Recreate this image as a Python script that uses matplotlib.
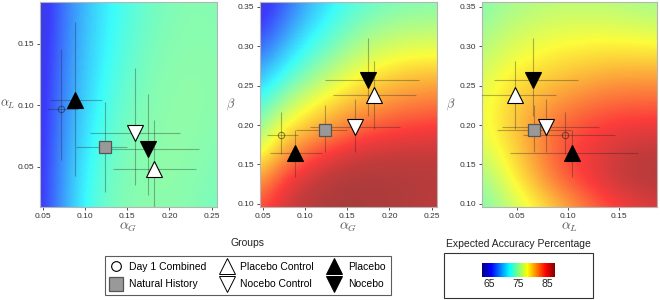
import numpy as np
import matplotlib
matplotlib.use("Agg")
import matplotlib.pyplot as plt
from matplotlib.colors import LinearSegmentedColormap, Normalize
from matplotlib.lines import Line2D
from matplotlib.patches import Rectangle
import matplotlib.cm as cm

plt.rcParams['font.family'] = ['Liberation Sans', 'DejaVu Sans']
plt.rcParams['mathtext.fontset'] = 'cm'

# ---------------- data ----------------
groups = ["Day 1 Combined", "Natural History", "Placebo Control",
          "Nocebo Control", "Placebo", "Nocebo"]
aG     = [0.072, 0.124, 0.182, 0.159, 0.088, 0.175]
aG_lo  = [0.055, 0.089, 0.133, 0.106, 0.059, 0.124]
aG_hi  = [0.092, 0.150, 0.232, 0.212, 0.120, 0.235]
aL     = [0.097, 0.066, 0.048, 0.078, 0.104, 0.065]
aL_lo  = [0.056, 0.030, 0.013, 0.035, 0.043, 0.027]
aL_hi  = [0.146, 0.103, 0.088, 0.130, 0.168, 0.109]
beta   = [0.187, 0.194, 0.238, 0.198, 0.164, 0.257]
beta_lo = [0.163, 0.166, 0.195, 0.166, 0.134, 0.212]
beta_hi = [0.216, 0.226, 0.281, 0.233, 0.194, 0.310]

# axis ranges
aG_range = (0.0468, 0.2563)
aL_range1 = (0.0175, 0.184)
beta_range = (0.096, 0.356)
aL_range3 = (0.015, 0.187)

# expected accuracy (%) read at evenly spaced nodes spanning each panel (rows: bottom -> top)
acc_G_L = [
    [65.0, 68.8, 72.0, 73.7, 74.3, 74.5, 74.5, 74.2, 73.8],
    [64.8, 68.5, 71.3, 73.3, 74.2, 74.5, 74.6, 74.5, 74.2],
    [64.6, 68.0, 70.5, 72.5, 73.7, 74.3, 74.6, 74.6, 74.5],
    [64.4, 67.6, 70.0, 71.8, 73.1, 74.0, 74.4, 74.5, 74.4],
    [64.2, 67.3, 69.7, 71.5, 72.6, 73.6, 74.1, 74.3, 74.2],
]
acc_G_B = [
    [83.8, 85.5, 86.5, 86.9, 87.0, 86.9, 86.8, 86.6, 86.3],
    [81.2, 84.3, 85.9, 86.6, 86.9, 86.9, 86.8, 86.7, 86.6],
    [78.0, 81.0, 83.2, 84.8, 85.7, 86.1, 86.2, 86.2, 86.2],
    [75.0, 78.5, 80.0, 81.3, 82.6, 83.6, 84.2, 84.5, 84.7],
    [72.5, 75.5, 77.5, 79.0, 80.2, 81.0, 81.8, 82.2, 82.5],
    [70.0, 72.5, 74.5, 76.3, 77.8, 79.0, 79.8, 80.3, 80.5],
    [67.5, 70.0, 72.3, 74.0, 75.5, 76.7, 77.4, 77.8, 77.8],
    [65.5, 68.0, 70.5, 72.3, 73.8, 74.9, 75.5, 75.8, 75.9],
    [64.5, 66.5, 69.0, 71.0, 72.4, 73.3, 73.9, 74.2, 74.3],
]
acc_L_B = [
    [74.0, 76.0, 78.0, 80.0, 82.0, 83.7, 84.8, 85.4],
    [75.0, 77.5, 80.0, 82.5, 84.2, 85.6, 86.4, 86.6],
    [76.5, 78.5, 81.0, 83.3, 84.7, 85.6, 86.3, 86.5],
    [77.5, 79.3, 81.2, 83.0, 84.0, 84.7, 85.1, 85.2],
    [77.5, 79.2, 80.5, 81.6, 82.4, 83.0, 83.2, 83.2],
    [77.0, 78.5, 79.3, 80.0, 80.5, 81.0, 81.2, 81.2],
    [76.0, 77.3, 78.0, 78.5, 78.8, 79.0, 79.0, 78.9],
    [75.0, 76.2, 76.8, 77.2, 77.3, 77.3, 77.1, 76.8],
    [74.3, 75.2, 75.7, 76.0, 76.0, 75.9, 75.6, 75.3],
]

cb_ticks = [65, 75, 85]
cb_range = (62.5, 87.5)

# ---------------- styles ----------------
cmap = LinearSegmentedColormap.from_list(
    "jetlike", ["#00007F", "#0000FF", "#007FFF", "#00FFFF", "#7FFF7F",
                "#FFFF00", "#FF7F00", "#FF0000", "#7F0000"])
norm = Normalize(*cb_range)

mstyle = {
    "Day 1 Combined": dict(marker='o', ms=4.6, mfc='none', mec=(0.1, 0.1, 0.1, 0.5), mew=0.8),
    "Natural History": dict(marker='s', ms=8.5, mfc='#999999', mec='#555555', mew=0.9),
    "Placebo Control": dict(marker='^', ms=11.5, mfc='white', mec='black', mew=0.8),
    "Nocebo Control": dict(marker='v', ms=11.5, mfc='white', mec='black', mew=0.8),
    "Placebo": dict(marker='^', ms=11.5, mfc='black', mec='black', mew=0.8),
    "Nocebo": dict(marker='v', ms=11.5, mfc='black', mec='black', mew=0.8),
}
leg_style = {
    "Day 1 Combined": dict(marker='o', ms=7, mfc='white', mec='black', mew=0.8),
    "Natural History": dict(marker='s', ms=9.5, mfc='#999999', mec='#555555', mew=0.9),
    "Placebo Control": dict(marker='^', ms=12, mfc='white', mec='black', mew=0.7),
    "Nocebo Control": dict(marker='v', ms=12, mfc='white', mec='black', mew=0.7),
    "Placebo": dict(marker='^', ms=12, mfc='black', mec='black', mew=0.7),
    "Nocebo": dict(marker='v', ms=12, mfc='black', mec='black', mew=0.7),
}

fig = plt.figure(figsize=(6.6, 3.0), dpi=100)

W, H = 660.0, 300.0
def axpos(l, r, t, b):
    return [l / W, 1 - b / H, (r - l) / W, (b - t) / H]

panels = [
    dict(pos=axpos(40, 217, 2, 207), grid=acc_G_L, xr=aG_range, yr=aL_range1,
         x=aG, xlo=aG_lo, xhi=aG_hi, y=aL, ylo=aL_lo, yhi=aL_hi,
         xl=r'$\alpha_G$', yl=r'$\alpha_L$', ylx=-0.18,
         xt=[0.05, 0.10, 0.15, 0.20, 0.25], yt=[0.05, 0.10, 0.15]),
    dict(pos=axpos(260, 437, 2, 207), grid=acc_G_B, xr=aG_range, yr=beta_range,
         x=aG, xlo=aG_lo, xhi=aG_hi, y=beta, ylo=beta_lo, yhi=beta_hi,
         xl=r'$\alpha_G$', yl=r'$\beta$', ylx=-0.165,
         xt=[0.05, 0.10, 0.15, 0.20, 0.25], yt=[0.10, 0.15, 0.20, 0.25, 0.30, 0.35]),
    dict(pos=axpos(481.7, 657, 2, 207), grid=acc_L_B, xr=aL_range3, yr=beta_range,
         x=aL, xlo=aL_lo, xhi=aL_hi, y=beta, ylo=beta_lo, yhi=beta_hi,
         xl=r'$\alpha_L$', yl=r'$\beta$', ylx=-0.175,
         xt=[0.05, 0.10, 0.15], yt=[0.10, 0.15, 0.20, 0.25, 0.30, 0.35]),
]

for p in panels:
    ax = fig.add_axes(p["pos"])
    g = np.array(p["grid"], dtype=float)
    ny, nx = g.shape
    x0, x1 = p["xr"]; y0, y1 = p["yr"]
    dx = (x1 - x0) / (nx - 1); dy = (y1 - y0) / (ny - 1)
    ax.imshow(g, cmap=cmap, norm=norm, origin='lower', aspect='auto',
              interpolation='bicubic', alpha=0.76,
              extent=(x0 - dx / 2, x1 + dx / 2, y0 - dy / 2, y1 + dy / 2))
    ax.set_facecolor('#f4f4f4')
    x = np.array(p["x"]); y = np.array(p["y"])
    xerr = [x - np.array(p["xlo"]), np.array(p["xhi"]) - x]
    yerr = [y - np.array(p["ylo"]), np.array(p["yhi"]) - y]
    ax.errorbar(x, y, xerr=xerr, yerr=yerr, fmt='none',
                ecolor=(0.15, 0.15, 0.15, 0.35), elinewidth=0.8, capsize=0, zorder=3)
    for i, gname in enumerate(groups):
        ax.plot([x[i]], [y[i]], linestyle='none', zorder=4, **mstyle[gname])
    ax.set_xlim(x0, x1); ax.set_ylim(y0, y1)
    ax.set_xticks(p["xt"]); ax.set_yticks(p["yt"])
    ax.set_xticklabels([f"{v:.2f}" for v in p["xt"]])
    ax.set_yticklabels([f"{v:.2f}" for v in p["yt"]])
    ax.tick_params(labelsize=6, length=2.5, width=0.6, colors='#333333', pad=1.5)
    for s in ax.spines.values():
        s.set_color('#b5b5b5'); s.set_linewidth(0.8)
    ax.set_xlabel(p["xl"], fontsize=10, color='#555555', labelpad=0)
    ax.set_ylabel(p["yl"], fontsize=9, color='#555555', rotation=0, va='center', ha='center')
    ax.yaxis.set_label_coords(p["ylx"], 0.5)

# ---------------- group legend ----------------
handles = [Line2D([], [], linestyle='none', **leg_style[gname]) for gname in groups]
leg = fig.legend(handles, groups, ncol=3, loc='center',
                 bbox_to_anchor=(248 / W, 1 - 275.5 / H), fontsize=7.5,
                 frameon=True, fancybox=False, handlelength=1.0, handletextpad=0.8,
                 columnspacing=1.45, labelspacing=0.75, borderpad=0.5)
leg.get_frame().set_edgecolor('#333333')
leg.get_frame().set_linewidth(0.8)
fig.text(248 / W, 1 - 243 / H, "Groups", ha='center', va='center', fontsize=7.5, color='#222222')

# ---------------- colour legend ----------------
fig.text(518 / W, 1 - 244 / H, "Expected Accuracy Percentage", ha='center', va='center',
         fontsize=7.5, color='#222222')
fig.patches.append(Rectangle((444 / W, 1 - 298 / H), (593 - 444) / W, (298 - 253) / H,
                             transform=fig.transFigure, fill=False,
                             edgecolor='#333333', linewidth=0.8))
cax = fig.add_axes(axpos(482, 555, 263.3, 276.7))
sm = cm.ScalarMappable(norm=norm, cmap=cmap)
cb = fig.colorbar(sm, cax=cax, orientation='horizontal', ticks=cb_ticks)
cb.outline.set_visible(False)
cb.ax.tick_params(length=0, labelsize=7.5, colors='#222222', pad=2)

fig.savefig("out.png", dpi=100)
